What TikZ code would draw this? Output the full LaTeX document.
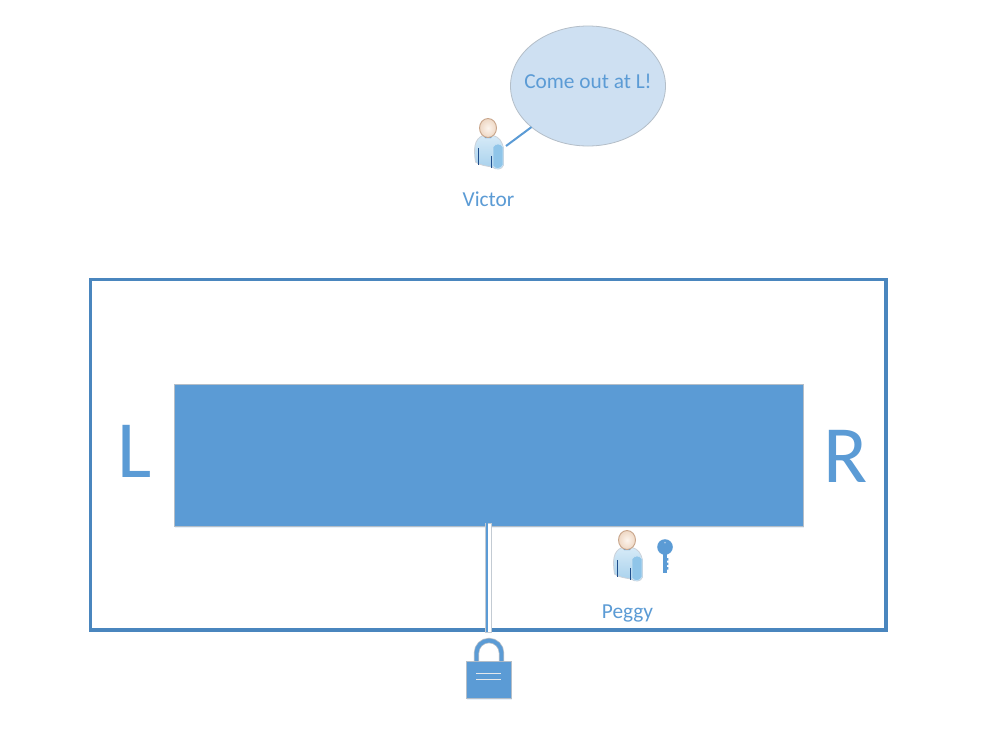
\documentclass[tikz,border=0pt]{standalone}
\usepackage{fontspec}
\setmainfont{Carlito}
\usetikzlibrary{shadows,calc,shapes.geometric}
\definecolor{mainblue}{HTML}{5B9BD5}
\definecolor{framblue}{HTML}{4A86BE}
\definecolor{bubblefill}{HTML}{CEE0F2}
\definecolor{greyedge}{HTML}{B4BEC8}
\definecolor{bodyl}{HTML}{D6EAF7}
\definecolor{bodyd}{HTML}{A6D0EC}
\definecolor{panel}{HTML}{8FC5E9}
\definecolor{navy}{HTML}{1F4E8C}
\definecolor{skin}{HTML}{F8E4D2}
\definecolor{skind}{HTML}{C9A68C}
\tikzset{
  softshadow/.style={drop shadow={shadow xshift=0pt,shadow yshift=-1.5pt,fill=mainblue,opacity=0.14}},
  label text/.style={text=mainblue,font=\fontsize{16}{18}\selectfont,inner sep=0pt,anchor=base},
  big letter/.style={text=mainblue,font=\fontsize{61}{66}\selectfont,inner sep=0pt},
  person/.pic={
    \path[draw=greyedge!70,line width=.6pt,top color=bodyl,bottom color=bodyd]
      (-12.5,33) .. controls (-14.5,20) and (-14,10) .. (-5,6.5) -- (5,6.5)
      .. controls (11,8) and (14,12) .. (15.5,19) -- (15.5,36)
      .. controls (14,41) and (8,41) .. (4,38) .. controls (-2,37) and (-9,36) .. (-12.5,33) -- cycle;
    \fill[panel,draw=bodyd!60!white,line width=.5pt] (5,18) .. controls (7,14) and (13,14) .. (15,18)
      -- (15,36) .. controls (13,40.5) and (7,40.5) .. (5,37) -- cycle;
    \fill[mainblue] (-5,5) -- (5,5) -- (3,9) -- (-3,9) -- cycle;
    \draw[navy,line width=.8pt] (-9.5,19) -- (-9.5,36);
    \draw[navy,line width=.8pt] (3.5,27) -- (3.5,39);
    \shade[inner color=skin!40!white,outer color=skin!80!skind,draw=skind,line width=.7pt]
      (0,-1) ellipse (8.5 and 9.5);
  },
  keypic/.pic={
    \fill[mainblue] (-2.4,4) rectangle (2.4,26);
    \fill[mainblue] (0,0) circle (7.8);
    \fill[mainblue] (2,11) rectangle (3.4,13.5) (2,15.5) rectangle (3.4,18) (2,20) rectangle (3.4,22.5);
    \fill[white!45!mainblue] (0,-4.5) circle (1);
  }
}
\begin{document}
\begin{tikzpicture}[x=0.75pt,y=-0.75pt]
\useasboundingbox (0,0) rectangle (1005,736);
\fill[white] (0,0) rectangle (1005,736);

% outer frame and wall
\node[draw=framblue,line width=2.6pt,inner sep=0pt,outer sep=0pt,
  minimum width=596.6pt,minimum height=262.9pt,anchor=north west] (frame) at (90.5,279.5) {};
\node[fill=mainblue,draw=greyedge,line width=.6pt,softshadow,inner sep=0pt,outer sep=0pt,
  minimum width=471.75pt,minimum height=106.1pt,anchor=north west] (wall) at (174.5,384.5) {};

% letters
\node[big letter] (L) at (135,451) {L};
\node[big letter] (R) at (845.5,456) {R};

% door
\node[draw=greyedge!80,fill=white,line width=.5pt,inner sep=0pt,outer sep=0pt,
  minimum width=4.5pt,minimum height=81.75pt,anchor=north] (door) at (488.8,523) {};
\draw[mainblue,line width=1.4pt] ($(door.north)+(-1.8,0)$) -- ($(door.south)+(-1.8,0)$);

% lock
\node[fill=mainblue,draw=greyedge,line width=.6pt,softshadow,inner sep=0pt,outer sep=0pt,
  minimum width=33.75pt,minimum height=27.75pt,anchor=north] (lock) at (489,661) {};
\draw[greyedge,line width=4pt] ($(lock.north)+(-12.5,0)$) -- ++(0,-8) arc[start angle=180,end angle=360,radius=12.5] -- ++(0,8);
\draw[mainblue,line width=2.9pt] ($(lock.north)+(-12.5,0)$) -- ++(0,-8) arc[start angle=180,end angle=360,radius=12.5] -- ++(0,8);
\draw[white!65!greyedge,line width=.6pt]
  ($(lock.north)+(-13,12.5)$) -- ++(25,0)
  ($(lock.north)+(-13,18.5)$) -- ++(25,0);

% Victor
\node[ellipse,fill=bubblefill,draw=greyedge,line width=.6pt,inner sep=0pt,outer sep=0pt,
  minimum width=116.25pt,minimum height=90pt] (bubble) at (588,86) {};
\node[label text] (say) at (588,88) {Come out at L!};
\pic (victorIcon) at (488,129) {person};
\node[label text] (victor) at (488.5,206.5) {Victor};
\coordinate (victorMouth) at (506,146);
\draw[mainblue,line width=1.5pt] (victorMouth) -- (bubble.216);

% Peggy
\pic (peggyIcon) at (627,541) {person};
\pic (peggyKey) at (665,547) {keypic};
\node[label text] (peggy) at (627.5,618) {Peggy};
\end{tikzpicture}
\end{document}
